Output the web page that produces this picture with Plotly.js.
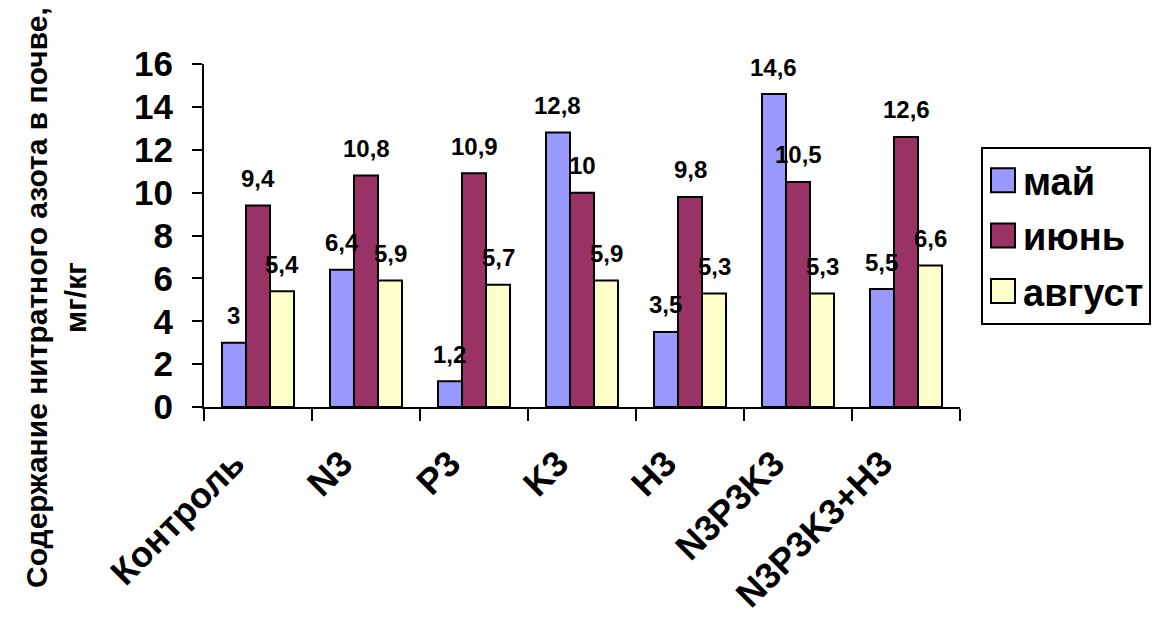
<!DOCTYPE html>
<html>
<head>
<meta charset="utf-8">
<script src="https://cdn.plot.ly/plotly-3.0.1.min.js"></script>
<style>
html, body { margin: 0; padding: 0; background: #ffffff; }
#chart { width: 1156px; height: 618px; }
</style>
</head>
<body>
<div id="chart"></div>
<script>
const categories = ['Контроль', 'N3', 'P3', 'K3', 'Н3', 'N3P3K3', 'N3P3K3+Н3'];
const seriesNames = ['май', 'июнь', 'август'];
const mayValues = [3, 6.4, 1.2, 12.8, 3.5, 14.6, 5.5];
const juneValues = [9.4, 10.8, 10.9, 10, 9.8, 10.5, 12.6];
const augustValues = [5.4, 5.9, 5.7, 5.9, 5.3, 5.3, 6.6];
const yTickValues = [0, 2, 4, 6, 8, 10, 12, 14, 16];

const allSeries = [mayValues, juneValues, augustValues];
const colors = ['#9999FF', '#993366', '#FFFFCC'];
const FONT = 'Arial, "Liberation Sans", sans-serif';
const bargap = 0.333;
const barW = (1 - bargap) / allSeries.length;

const traces = allSeries.map((vals, i) => ({
  type: 'bar',
  name: seriesNames[i],
  x: categories,
  y: vals,
  legendgroup: 'g' + i,
  marker: { color: colors[i], line: { color: '#000000', width: 2 } },
  hoverinfo: 'x+y+name'
}));

const fmt = v => String(v).replace('.', ',');
const annotations = [];
allSeries.forEach((vals, i) => {
  vals.forEach((v, j) => {
    annotations.push({
      x: j + (i - 1) * barW,
      y: v,
      xref: 'x', yref: 'y',
      text: fmt(v),
      showarrow: false,
      yanchor: 'middle',
      yshift: 27,
      font: { family: FONT, size: 24, color: '#000000', weight: 'bold' }
    });
  });
});

annotations.push({
  xref: 'paper', yref: 'paper',
  x: (56 - 204) / 756, y: (407 - 298) / 343,
  xanchor: 'center', yanchor: 'middle',
  text: 'Содержание нитратного азота в почве,<br>мг/кг',
  textangle: -90,
  showarrow: false,
  font: { family: FONT, size: 30, color: '#000000', weight: 'bold' }
});

const layout = {
  width: 1156, height: 618,
  margin: { l: 204, r: 196, t: 64, b: 211, autoexpand: false },
  paper_bgcolor: '#ffffff', plot_bgcolor: '#ffffff',
  barmode: 'group', bargap: bargap, bargroupgap: 0,
  font: { family: FONT, color: '#000000' },
  xaxis: {
    type: 'category',
    showline: true, linecolor: '#000000', linewidth: 2,
    ticks: 'outside', tickson: 'boundaries', ticklen: 12, tickwidth: 2, tickcolor: '#000000',
    tickangle: -45,
    ticklabelstandoff: 19,
    ticklabelshift: -24,
    tickfont: { family: FONT, size: 36, color: '#000000', weight: 'bold' },
    showgrid: false, zeroline: false, automargin: false
  },
  yaxis: {
    range: [0, 16],
    tickvals: yTickValues,
    showline: true, linecolor: '#000000', linewidth: 2,
    ticks: 'outside', ticklen: 10, tickwidth: 2, tickcolor: '#000000',
    ticklabelstandoff: 12,
    tickfont: { family: FONT, size: 35, color: '#000000', weight: 'bold' },
    showgrid: false, zeroline: false, automargin: false
  },
  showlegend: true,
  legend: {
    x: (981 - 204) / 756, y: (407 - 147) / 343,
    xanchor: 'left', yanchor: 'top',
    bordercolor: '#000000', borderwidth: 2,
    bgcolor: '#ffffff',
    traceorder: 'grouped', tracegroupgap: 3,
    font: { family: FONT, size: 38, color: '#000000', weight: 'bold' }
  },
  annotations: annotations
};

Plotly.newPlot('chart', traces, layout, { displayModeBar: false, staticPlot: true }).then(gd => {
  gd.querySelectorAll('.legendpoints path').forEach(p => {
    const t = p.getAttribute('transform') || '';
    p.setAttribute('transform', t + ' scale(2)');
    p.style.strokeWidth = '1px';
  });
});
</script>
</body>
</html>
